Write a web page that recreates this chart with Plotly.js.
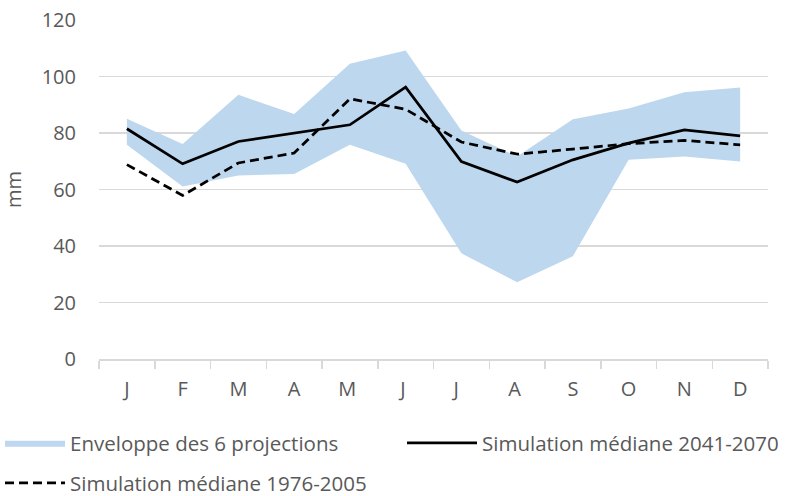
<!DOCTYPE html>
<html><head><meta charset="utf-8">
<script src="https://cdn.plot.ly/plotly-3.0.1.min.js"></script>
<style>body{margin:0;padding:0;background:#fff}#chart{width:788px;height:496px}</style>
</head><body><div id="chart"></div>
<script>
const months = ["J","F","M","A","M ","J ","J  ","A ","S","O","N","D"];
const envLow  = [75.8, 61.1, 65.0, 65.5, 75.8, 69.1, 37.4, 27.2, 36.4, 70.5, 71.7, 69.9];
const envHigh = [85.0, 76.1, 93.5, 86.7, 104.5, 109.2, 80.9, 71.7, 84.9, 88.7, 94.4, 96.1];
const sim2041 = [81.5, 69.1, 77.0, 80.0, 82.9, 96.2, 69.9, 62.6, 70.5, 76.4, 81.1, 79.0];
const sim1976 = [68.8, 57.9, 69.4, 72.9, 92.1, 88.4, 76.8, 72.5, 74.3, 76.2, 77.4, 75.8];

const FONT = "Open Sans, sans-serif";
const GREY = "#595959";
const traces = [
  {x: months, y: envLow, type: "scatter", mode: "lines", line: {width: 0, color: "#BDD7EE"}, showlegend: false, hoverinfo: "skip"},
  {x: months, y: envHigh, type: "scatter", mode: "lines", fill: "tonexty", fillcolor: "#BDD7EE", line: {width: 0, color: "#BDD7EE"}, name: "Enveloppe des 6 projections", legend: "legend"},
  {x: months, y: sim2041, type: "scatter", mode: "lines", line: {color: "#000", width: 2.75}, name: "Simulation médiane 2041-2070", legend: "legend3"},
  {x: months, y: sim1976, type: "scatter", mode: "lines", line: {color: "#000", width: 2.75, dash: "9px,5px"}, name: "Simulation médiane 1976-2005", legend: "legend2"}
];
const legendBase = {orientation: "h", xref: "container", yref: "container", xanchor: "left", yanchor: "top",
  font: {family: FONT, size: 20.5, color: GREY}, traceorder: "normal", bgcolor: "rgba(0,0,0,0)"};
const layout = {
  width: 788, height: 496,
  margin: {l: 99, r: 20, t: 20, b: 137},
  paper_bgcolor: "#fff", plot_bgcolor: "#fff",
  font: {family: FONT, size: 20, color: GREY},
  xaxis: {type: "category", range: [-0.5, 11.5], showgrid: false, showline: true, linecolor: "#D9D9D9", linewidth: 1.5,
          ticks: "outside", tickson: "boundaries", ticklen: 8, tickcolor: "#D9D9D9", tickwidth: 1.5, ticklabelstandoff: 11,
          tickfont: {family: FONT, size: 20, color: GREY}, zeroline: false},
  yaxis: {range: [0, 120], dtick: 20, showgrid: true, gridcolor: "#D9D9D9", gridwidth: 1.5, zeroline: false, showline: false,
          ticks: "", ticklabelstandoff: 22, tickfont: {family: FONT, size: 20, color: GREY},
          title: {text: "mm", font: {family: FONT, size: 20, color: GREY}, standoff: 14}},
  legend: Object.assign({}, legendBase, {x: -2/788, y: 1 - 423/496, itemwidth: 60}),
  legend3: Object.assign({}, legendBase, {x: 402/788, y: 1 - 423/496, itemwidth: 70}),
  legend2: Object.assign({}, legendBase, {x: -2/788, y: 1 - 463/496, itemwidth: 60}),
  showlegend: true
};
Plotly.newPlot("chart", traces, layout, {displayModeBar: false, staticPlot: true});
</script></body></html>
